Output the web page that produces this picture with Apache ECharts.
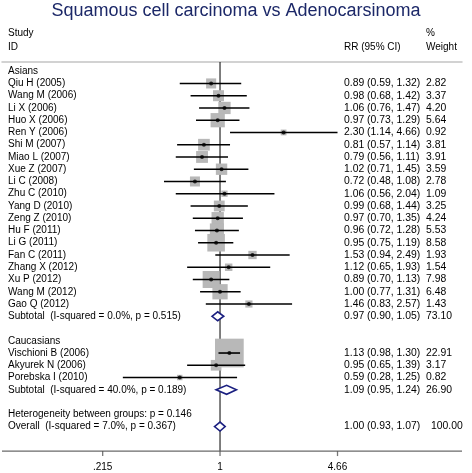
<!DOCTYPE html>
<html>
<head>
<meta charset="utf-8">
<script src="https://cdn.jsdelivr.net/npm/echarts@6/dist/echarts.min.js"></script>
<style>html,body{margin:0;padding:0;background:#fff}#c{width:472px;height:473px}</style>
</head>
<body>
<div id="c"></div>
<script>
// ---- data ----
var asiaStudies = ["Qiu H (2005)","Wang M (2006)","Li X (2006)","Huo X (2006)","Ren Y (2006)","Shi M (2007)","Miao L (2007)","Xue Z (2007)","Li C (2008)","Zhu C (2010)","Yang D (2010)","Zeng Z (2010)","Hu F (2011)","Li G (2011)","Fan C (2011)","Zhang X (2012)","Xu P (2012)","Wang M (2012)","Gao Q (2012)"];
var asiaRR = [0.89,0.98,1.06,0.97,2.30,0.81,0.79,1.02,0.72,1.06,0.99,0.97,0.96,0.95,1.53,1.12,0.89,1.00,1.46];
var asiaLo = [0.59,0.68,0.76,0.73,1.14,0.57,0.56,0.71,0.48,0.56,0.68,0.70,0.72,0.75,0.94,0.65,0.70,0.77,0.83];
var asiaHi = [1.32,1.42,1.47,1.29,4.66,1.14,1.11,1.45,1.08,2.04,1.44,1.35,1.28,1.19,2.49,1.93,1.13,1.31,2.57];
var asiaW  = [2.82,3.37,4.20,5.64,0.92,3.81,3.91,3.59,2.78,1.09,3.25,4.24,5.53,8.58,1.93,1.54,7.98,6.48,1.43];

var cauStudies = ["Vischioni B (2006)","Akyurek N (2006)","Porebska I (2010)"];
var cauRR = [1.13,0.95,0.59];
var cauLo = [0.98,0.65,0.28];
var cauHi = [1.30,1.39,1.25];
var cauW  = [22.91,3.17,0.82];

var groupNames = ["Asians","Caucasians"];
var subLabels = ["Subtotal  (I-squared = 0.0%, p = 0.515)","Subtotal  (I-squared = 40.0%, p = 0.189)"];
var subRR = [0.97,1.09];
var subLo = [0.90,0.95];
var subHi = [1.05,1.24];
var subW  = [73.10,26.90];

var hetLabel = "Heterogeneity between groups: p = 0.146";
var overallLabel = "Overall  (I-squared = 7.0%, p = 0.367)";
var overallRR = 1.00, overallLo = 0.93, overallHi = 1.07, overallW = 100.00;

var tickValues = [0.215, 1, 4.66];
var tickLabels = [".215", "1", "4.66"];

var titleText = "Squamous cell carcinoma vs Adenocarsinoma";

// ---- build rows (row positions measured from the axis line) ----
function f2(v){ return v.toFixed(2); }
var AXIS_ROW = 31;
var rows = [];
var r = 0;
function addGroup(name, st, rr, lo, hi, w, gi){
  rows.push({row:r++, label:name, kind:'head'});
  for (var i=0;i<st.length;i++) rows.push({row:r++, label:st[i], rr:rr[i], lo:lo[i], hi:hi[i], w:w[i], kind:'study'});
  rows.push({row:r++, label:subLabels[gi], rr:subRR[gi], lo:subLo[gi], hi:subHi[gi], w:subW[gi], kind:'sub'});
  r++;
}
addGroup(groupNames[0], asiaStudies, asiaRR, asiaLo, asiaHi, asiaW, 0);
addGroup(groupNames[1], cauStudies, cauRR, cauLo, cauHi, cauW, 1);
rows.push({row:r++, label:hetLabel, kind:'head'});
rows.push({row:r++, label:overallLabel, rr:overallRR, lo:overallLo, hi:overallHi, w:overallW, kind:'overall'});
rows.forEach(function(d){ d.y = d.row - AXIS_ROW; });

var studies = rows.filter(function(d){return d.kind==='study';});
var pooled = rows.filter(function(d){return d.kind==='sub'||d.kind==='overall';});

var FONT = "'Liberation Sans', Arial, sans-serif";
var XMIN = 0.0575, XMAX = 23.8;
var YPAD = 0.6; // rows of empty space below the axis line inside the grid
var chart = echarts.init(document.getElementById('c'), null, {renderer:'canvas'});

var option = {
  animation: false,
  backgroundColor: '#fff',
  title: {
    text: titleText, left: 'center', top: -3,
    textStyle: {fontFamily: FONT, fontSize: 18, fontWeight: 'normal', color: '#1c2868'}
  },
  graphic: [
    {type:'text', left: 8, top: 28, style:{text:'Study', font:'10px '+FONT, fill:'#000'}},
    {type:'text', left: 8, top: 42, style:{text:'ID', font:'10px '+FONT, fill:'#000'}},
    {type:'text', left: 344, top: 42, style:{text:'RR (95% CI)', font:'10px '+FONT, fill:'#000'}},
    {type:'text', left: 426, top: 28, style:{text:'%', font:'10px '+FONT, fill:'#000'}},
    {type:'text', left: 426, top: 42, style:{text:'Weight', font:'10px '+FONT, fill:'#000'}}
  ],
  grid: {left: 2, right: 10, top: 62, bottom: 14.6, containLabel: false},
  xAxis: [{
    type: 'log', min: XMIN, max: XMAX,
    axisLine: {show: false, onZero: false},
    axisTick: {show: false},
    axisLabel: {show: true, customValues: tickValues, margin: 4, fontFamily: FONT, fontSize: 10, color: '#000',
      formatter: function(v){ for (var i=0;i<tickValues.length;i++){ if (Math.abs(v-tickValues[i])<1e-6) return tickLabels[i]; } return ''; }},
    splitLine: {show: false}
  },{
    type: 'value', position: 'top', min: 0, max: 1,
    axisLine: {show: true, onZero: false, lineStyle: {color: '#c4c4c4', width: 1.5}},
    axisTick: {show: false}, axisLabel: {show: false}, splitLine: {show: false}
  }],
  yAxis: {type: 'value', inverse: true, min: -AXIS_ROW - 0.75, max: YPAD, show: false},
  series: [
    {
      type: 'scatter', name: 'boxes',
      symbol: 'rect',
      symbolSize: function(v){ return 6*Math.sqrt(v[2]); },
      itemStyle: {color: '#b8b8b8', opacity: 1},
      data: studies.map(function(d){ return [d.rr, d.y, d.w]; }),
      z: 2
    },
    {
      type: 'custom', name: 'refline', z: 1, clip: false,
      renderItem: function(params, api){
        var a = api.coord([api.value(0), -AXIS_ROW - 0.75]);
        var b = api.coord([api.value(0), 0]);
        return {type:'line', shape:{x1:a[0], y1:a[1], x2:b[0], y2:b[1]}, style:{stroke:'#000', lineWidth:1}};
      },
      encode: {x: 0},
      data: [[1]]
    },
    {
      type: 'line', name: 'axisline', z: 1, silent: true, clip: false,
      symbol: 'none', lineStyle: {color: '#6a6a6a', width: 1.2},
      data: [[XMIN, 0], [XMAX, 0]]
    },
    {
      type: 'scatter', name: 'ticks', z: 1, silent: true, clip: false,
      symbol: 'rect', symbolSize: [1.3, 5], symbolOffset: [0, 2.5],
      itemStyle: {color: '#555'},
      data: tickValues.map(function(v){ return [v, 0]; })
    },
    {
      type: 'custom', name: 'ci', z: 3,
      renderItem: function(params, api){
        var a = api.coord([api.value(1), api.value(0)]);
        var b = api.coord([api.value(2), api.value(0)]);
        return {type:'line', shape:{x1:a[0], y1:a[1], x2:b[0], y2:b[1]}, style:{stroke:'#000', lineWidth:1.6}};
      },
      encode: {x: [1,2], y: 0},
      data: studies.map(function(d){ return [d.y, d.lo, d.hi]; })
    },
    {
      type: 'scatter', name: 'points', symbol: 'circle', symbolSize: 4, z: 4,
      itemStyle: {color: '#000'},
      data: studies.map(function(d){ return [d.rr, d.y]; })
    },
    {
      type: 'custom', name: 'diamonds', z: 4,
      renderItem: function(params, api){
        var y = api.value(0);
        var l = api.coord([api.value(1), y]);
        var m = api.coord([api.value(2), y]);
        var h = api.coord([api.value(3), y]);
        var hh = 4.5;
        return {type:'polygon', shape:{points:[[l[0],l[1]],[m[0],m[1]-hh],[h[0],h[1]],[m[0],m[1]+hh]]},
          style:{fill:'#fff', stroke:'#1a1f80', lineWidth:1.6}};
      },
      encode: {x: [1,2,3], y: 0},
      data: pooled.map(function(d){ return [d.y, d.lo, d.rr, d.hi]; })
    },
    {
      type: 'custom', name: 'texts', z: 5, clip: false,
      renderItem: function(params, api){
        var d = rows[params.dataIndex];
        var y = api.coord([1, api.value(0)])[1];
        var kids = [{type:'text', x: 8, y: y, style:{text:d.label, font:'10px '+FONT, fill:'#000', verticalAlign:'middle', align:'left'}}];
        if (d.rr !== undefined) {
          kids.push({type:'text', x: 344, y: y, style:{text: f2(d.rr)+' ('+f2(d.lo)+', '+f2(d.hi)+')', font:'10.4px '+FONT, fill:'#000', verticalAlign:'middle', align:'left'}});
          kids.push({type:'text', x: d.kind==='overall' ? 431 : 426, y: y, style:{text: f2(d.w), font:'10.4px '+FONT, fill:'#000', verticalAlign:'middle', align:'left'}});
        }
        return {type:'group', children: kids};
      },
      encode: {y: 0},
      data: rows.map(function(d){ return [d.y]; })
    }
  ]
};
chart.setOption(option);
</script>
</body>
</html>
